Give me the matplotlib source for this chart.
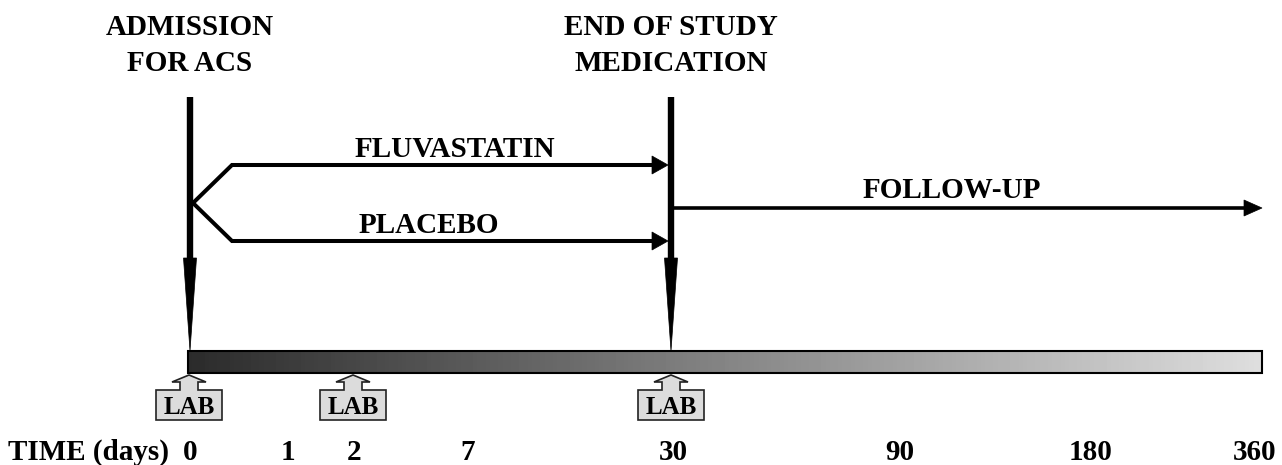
import matplotlib.pyplot as plt
import numpy as np
from matplotlib.patches import Polygon, Rectangle

plt.rcParams['font.family'] = ['Liberation Serif', 'DejaVu Serif']
plt.rcParams['font.weight'] = 'bold'

# time axis labels and where they sit along the bar
time_labels = ['0', '1', '2', '7', '30', '90', '180', '360']
time_x = [190, 288, 354, 468, 673, 900, 1091, 1255]

# events (vertical arrows), two lines of text each
event_labels = [['ADMISSION', 'FOR ACS'], ['END OF STUDY', 'MEDICATION']]
event_x = [190, 671]

# treatment arms
arm_labels = ['FLUVASTATIN', 'PLACEBO']
arm_y = [165, 241]
arm_text_x = [455, 429]

# lab draws
lab_x = [189, 353, 671]

bar_x0, bar_x1 = 188, 1262
bar_top, bar_bot = 351, 373

fig = plt.figure(figsize=(12.82, 4.65), dpi=100)
ax = fig.add_axes([0, 0, 1, 1])

fs = 21

# gradient bar
grad = np.linspace(0.17, 0.87, 256).reshape(1, -1)
ax.imshow(grad, cmap='gray', vmin=0, vmax=1, aspect='auto',
          extent=[bar_x0, bar_x1, bar_bot, bar_top], zorder=1)
ax.add_patch(Rectangle((bar_x0, bar_top), bar_x1 - bar_x0, bar_bot - bar_top,
                       fill=False, ec='black', lw=1.5, zorder=2))
ax.set_aspect('auto')
ax.set_xlim(0, 1282)
ax.set_ylim(465, 0)
ax.axis('off')

# vertical event arrows
for x, lines in zip(event_x, event_labels):
    ax.plot([x, x], [97, 262], color='black', lw=4.6, solid_capstyle='butt', zorder=3)
    ax.add_patch(Polygon([[x - 6.5, 258], [x + 6.5, 258], [x, 351]],
                         closed=True, fc='black', ec='black', lw=0.5, zorder=3))
    for yb, s in zip([35, 71], lines):
        ax.text(x, yb, s, ha='center', va='baseline', fontsize=fs, fontweight='bold')

# branching arms
bx, by = event_x[0] + 3, 203
for y, lab, tx in zip(arm_y, arm_labels, arm_text_x):
    ax.plot([bx, 232, 655], [by, y, y], color='black', lw=2.9,
            solid_joinstyle='miter', zorder=3)
    ax.add_patch(Polygon([[652, y - 9], [652, y + 9], [668, y]],
                         closed=True, fc='black', ec='black', lw=0.5, zorder=3))
    ax.text(tx, y - 8, lab, ha='center', va='baseline', fontsize=fs, fontweight='bold')

# follow-up arrow
fy = 208
ax.plot([event_x[1] + 3, 1248], [fy, fy], color='black', lw=2.6,
        solid_capstyle='butt', zorder=3)
ax.add_patch(Polygon([[1244, fy - 8], [1244, fy + 8], [1262, fy]],
                     closed=True, fc='black', ec='black', lw=0.5, zorder=3))
ax.text(952, 198, 'FOLLOW-UP', ha='center', va='baseline', fontsize=fs, fontweight='bold')

# LAB markers
for x in lab_x:
    pts = [[x - 33, 420], [x - 33, 390], [x - 9, 390], [x - 9, 382],
           [x - 17, 382], [x, 375], [x + 17, 382], [x + 9, 382],
           [x + 9, 390], [x + 33, 390], [x + 33, 420]]
    ax.add_patch(Polygon(pts, closed=True, fc='#dcdcdc', ec='#222222',
                         lw=1.2, zorder=3))
    ax.text(x, 414, 'LAB', ha='center', va='baseline', fontsize=18, fontweight='bold')

# time row
ax.text(8, 460, 'TIME (days)', ha='left', va='baseline', fontsize=fs, fontweight='bold')
for x, t in zip(time_x, time_labels):
    ax.text(x, 460, t, ha='center', va='baseline', fontsize=fs, fontweight='bold')

fig.savefig('out.png', dpi=100)
